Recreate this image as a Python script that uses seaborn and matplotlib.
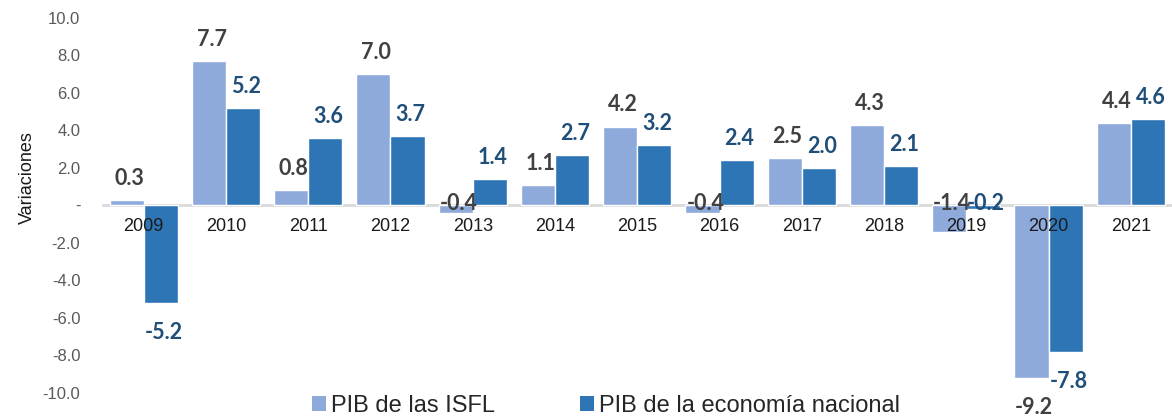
import pandas as pd
import numpy as np
import seaborn as sns
import matplotlib.pyplot as plt
from matplotlib.patches import Patch
from matplotlib.ticker import FuncFormatter

# Data
years = ["2009", "2010", "2011", "2012", "2013", "2014", "2015",
         "2016", "2017", "2018", "2019", "2020", "2021"]
pib_isfl = [0.3, 7.7, 0.8, 7.0, -0.4, 1.1, 4.2, -0.4, 2.5, 4.3, -1.4, -9.2, 4.4]
pib_nacional = [-5.2, 5.2, 3.6, 3.7, 1.4, 2.7, 3.2, 2.4, 2.0, 2.1, -0.2, -7.8, 4.6]
series_names = ["PIB de las ISFL", "PIB de la economía nacional"]
bar_colors = ["#8EAADB", "#2E75B6"]
label_colors = ["#404040", "#1F4E79"]

df = pd.DataFrame({
    "year": years * 2,
    "value": pib_isfl + pib_nacional,
    "serie": [series_names[0]] * len(years) + [series_names[1]] * len(years),
})

sns.set_style("white")
plt.rcParams["font.family"] = ["Liberation Sans", "DejaVu Sans"]

fig = plt.figure(figsize=(11.72, 4.17), dpi=100)
ax = fig.add_axes([0.0875, 0.0576, 0.9125, 0.9])

sns.barplot(data=df, x="year", y="value", hue="serie", palette=bar_colors,
            width=0.83, saturation=1, ax=ax, legend=False, zorder=3)

ax.set_ylim(-10, 10)
ax.set_xlim(-0.5, len(years) - 0.5)
ax.set_yticks(np.arange(-10, 11, 2))
ax.yaxis.set_major_formatter(FuncFormatter(lambda v, p: "-" if v == 0 else f"{v:.1f}"))
ax.tick_params(axis="y", length=0, labelsize=12, labelcolor="#595959", pad=16)
ax.tick_params(axis="x", length=0, labelsize=13, labelcolor="#1a1a1a", pad=9)
ax.xaxis.set_zorder(4)
ax.set_xlabel("")
ax.set_ylabel("")

for s in ["top", "right", "left"]:
    ax.spines[s].set_visible(False)
ax.spines["bottom"].set_position(("data", 0))
ax.spines["bottom"].set_color("#D9D9D9")
ax.spines["bottom"].set_linewidth(2)
ax.spines["bottom"].set_zorder(2)

# data labels
for cont, col in zip(ax.containers, label_colors):
    for bar in cont:
        v = bar.get_height()
        x = bar.get_x() + bar.get_width() / 2
        if v >= 0:
            y, off, va = v, 8, "bottom"
        elif v > -2:
            y, off, va = 0, 1, "center"
        else:
            y, off, va = v, -14, "top"
        ax.annotate(f"{v:.1f}", (x, y), xytext=(2, off), textcoords="offset points",
                    ha="center", va=va, fontsize=15.5, fontweight="bold",
                    color=col, family=["Lato", "DejaVu Sans"], zorder=5,
                    annotation_clip=False)

fig.text(0.023, 0.573, "Variaciones", rotation=90, ha="center", va="center",
         fontsize=13, color="#1a1a1a")

handles = [Patch(facecolor=c, edgecolor="none") for c in bar_colors]
fig.legend(handles, series_names, loc="lower center", bbox_to_anchor=(0.517, -0.05),
           ncol=2, frameon=False, fontsize=17, handlelength=0.6, handleheight=0.6,
           handletextpad=0.2, columnspacing=3.6)

plt.savefig("out.png", dpi=100)
